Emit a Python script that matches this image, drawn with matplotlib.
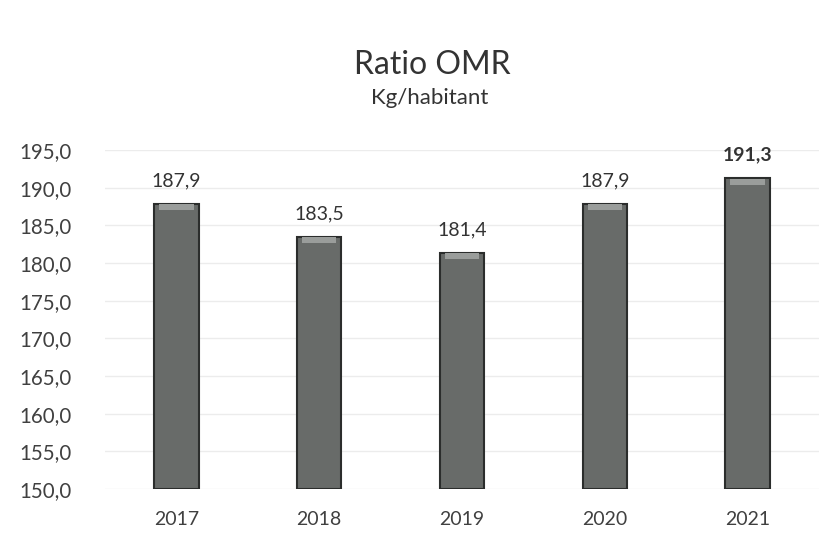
import numpy as np
import matplotlib
matplotlib.use('Agg')
from matplotlib import pyplot as plt

# données
annees = ['2017', '2018', '2019', '2020', '2021']
ratio = [187.9, 183.5, 181.4, 187.9, 191.3]
etiquettes = ['187,9', '183,5', '181,4', '187,9', '191,3']
yticks = [150, 155, 160, 165, 170, 175, 180, 185, 190, 195]

plt.rcParams['font.family'] = ['Lato', 'DejaVu Sans']

fig = plt.figure(figsize=(8.4, 5.38), dpi=100)
ax = fig.add_axes([0.125, 0.091, 0.85, 0.63])

x = np.arange(len(annees))
base = 150
hauteurs = [v - base for v in ratio]
ax.bar(x, hauteurs, bottom=base, width=0.31, color='#686b69',
       edgecolor='#2b2d2c', linewidth=1.5, zorder=3)
# reflet en haut de chaque barre
ax.bar(x, [0.8] * len(x), bottom=[v - 0.9 for v in ratio], width=0.24,
       color='#9a9d9b', linewidth=0, zorder=4)

for i, (v, t) in enumerate(zip(ratio, etiquettes)):
    ax.text(i, v + 1.9, t, ha='center', va='bottom', fontsize=14,
            color='#333333', fontweight='bold' if i == 4 else 'normal')

ax.set_xlim(-0.5, 4.5)
ax.set_ylim(150, 195)
ax.set_yticks(yticks)
ax.set_yticklabels([f'{v:.1f}'.replace('.', ',') for v in yticks],
                   fontsize=14.8, color='#404040')
ax.set_xticks(x)
ax.set_xticklabels(annees, fontsize=14, color='#404040')
ax.tick_params(length=0, axis='y', pad=24)
ax.tick_params(length=0, axis='x', pad=16)
ax.grid(axis='y', color='#ececec', linewidth=1, zorder=0)
for s in ax.spines.values():
    s.set_visible(False)

fig.text(0.515, 0.879, 'Ratio OMR', ha='center', va='center', fontsize=23, color='#333333')
fig.text(0.512, 0.818, 'Kg/habitant', ha='center', va='center', fontsize=16, color='#333333')

plt.savefig('out.png')
